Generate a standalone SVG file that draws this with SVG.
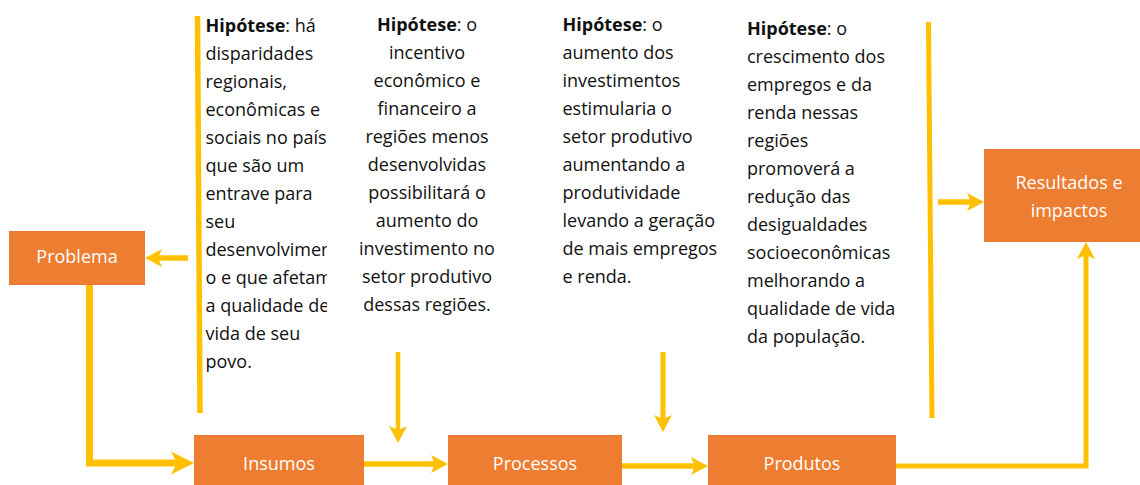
<svg xmlns="http://www.w3.org/2000/svg" width="1140" height="485" viewBox="0 0 1140 485">
<style>
.box{fill:#ED7D31;}
.lbl{font-family:"Open Sans","Liberation Sans",sans-serif;font-size:18px;fill:#FFFFFF;text-anchor:middle;}
.hyp{font-family:"Open Sans","Liberation Sans",sans-serif;font-size:18px;fill:#111111;}
.hyp tspan.b{font-weight:bold;}
.ctr{text-anchor:middle;}
.con{fill:none;stroke:#FFC000;stroke-width:5.5;stroke-linejoin:miter;}
.bar{fill:none;stroke:#FFC000;stroke-width:5.5;}
</style>
<defs>
<marker id="ah" markerUnits="userSpaceOnUse" viewBox="-18 -10 18 20" refX="-13" refY="0" markerWidth="18" markerHeight="20" orient="auto" overflow="visible">
<path d="M0,0 L-17,-9 L-13,0 L-17,9 Z" fill="#FFC000"/>
</marker>
<marker id="ahb" markerUnits="userSpaceOnUse" viewBox="-24 -12 24 24" refX="-17" refY="0" markerWidth="24" markerHeight="24" orient="auto" overflow="visible">
<path d="M0,0 L-23,-11.5 L-17,0 L-23,11.5 Z" fill="#FFC000"/>
</marker>
<clipPath id="clip1"><rect x="0" y="0" width="327" height="485"/></clipPath>
</defs>
<rect width="1140" height="485" fill="#FFFFFF"/>

<g id="connectors">
<path class="bar" d="M197.5,16 L200,413"/>
<path class="bar" style="stroke-width:5" d="M928.5,22 L932,418"/>
<path class="con" d="M188,258 H158" marker-end="url(#ah)"/>
<path class="con" style="stroke-width:7" d="M89.5,285 V463 H177" marker-end="url(#ahb)"/>
<path class="con" d="M364,464 H435" marker-end="url(#ah)"/>
<path class="con" d="M622,466 H695" marker-end="url(#ah)"/>
<path class="con" style="stroke-width:4.5" d="M398,352 V430" marker-end="url(#ah)"/>
<path class="con" style="stroke-width:5" d="M663,352 V419" marker-end="url(#ah)"/>
<path class="con" d="M938,202 H971" marker-end="url(#ah)"/>
<path class="con" style="stroke-width:5" d="M896,466 H1086 V255" marker-end="url(#ah)"/>
</g>

<g id="problema">
<rect class="box" x="9" y="231" width="136" height="54"/>
<text class="lbl" x="77" y="263">Problema</text>
</g>
<g id="insumos">
<rect class="box" x="194" y="435" width="170" height="52"/>
<text class="lbl" x="279" y="470">Insumos</text>
</g>
<g id="processos">
<rect class="box" x="448" y="435" width="174" height="52"/>
<text class="lbl" x="535" y="470">Processos</text>
</g>
<g id="produtos">
<rect class="box" x="708" y="435" width="188" height="52"/>
<text class="lbl" x="802" y="470">Produtos</text>
</g>
<g id="resultados">
<rect class="box" x="984" y="149" width="160" height="93"/>
<text class="lbl" x="1069" y="189">Resultados e</text>
<text class="lbl" x="1069" y="217">impactos</text>
</g>

<g id="hipotese1" clip-path="url(#clip1)">
<text class="hyp" x="205.5" y="32"><tspan class="b">Hipótese</tspan>: há</text>
<text class="hyp" x="205.5" y="60">disparidades</text>
<text class="hyp" x="205.5" y="88">regionais,</text>
<text class="hyp" x="205.5" y="116">econômicas e</text>
<text class="hyp" x="205.5" y="144">sociais no país</text>
<text class="hyp" x="205.5" y="172">que são um</text>
<text class="hyp" x="205.5" y="200">entrave para</text>
<text class="hyp" x="205.5" y="228">seu</text>
<text class="hyp" x="205.5" y="256">desenvolviment</text>
<text class="hyp" x="205.5" y="284">o e que afetam</text>
<text class="hyp" x="205.5" y="312">a qualidade de</text>
<text class="hyp" x="205.5" y="340">vida de seu</text>
<text class="hyp" x="205.5" y="368">povo.</text>
</g>

<g id="hipotese2">
<text class="hyp ctr" x="427" y="31"><tspan class="b">Hipótese</tspan>: o</text>
<text class="hyp ctr" x="427" y="59">incentivo</text>
<text class="hyp ctr" x="427" y="87">econômico e</text>
<text class="hyp ctr" x="427" y="115">financeiro a</text>
<text class="hyp ctr" x="427" y="143">regiões menos</text>
<text class="hyp ctr" x="427" y="171">desenvolvidas</text>
<text class="hyp ctr" x="427" y="199">possibilitará o</text>
<text class="hyp ctr" x="427" y="227">aumento do</text>
<text class="hyp ctr" x="427" y="255">investimento no</text>
<text class="hyp ctr" x="427" y="283">setor produtivo</text>
<text class="hyp ctr" x="427" y="311">dessas regiões.</text>
</g>

<g id="hipotese3">
<text class="hyp" x="562.5" y="31"><tspan class="b">Hipótese</tspan>: o</text>
<text class="hyp" x="562.5" y="59">aumento dos</text>
<text class="hyp" x="562.5" y="87">investimentos</text>
<text class="hyp" x="562.5" y="115">estimularia o</text>
<text class="hyp" x="562.5" y="143">setor produtivo</text>
<text class="hyp" x="562.5" y="171">aumentando a</text>
<text class="hyp" x="562.5" y="199">produtividade</text>
<text class="hyp" x="562.5" y="227">levando a geração</text>
<text class="hyp" x="562.5" y="255">de mais empregos</text>
<text class="hyp" x="562.5" y="283">e renda.</text>
</g>

<g id="hipotese4">
<text class="hyp" x="747" y="35"><tspan class="b">Hipótese</tspan>: o</text>
<text class="hyp" x="747" y="63">crescimento dos</text>
<text class="hyp" x="747" y="91">empregos e da</text>
<text class="hyp" x="747" y="119">renda nessas</text>
<text class="hyp" x="747" y="147">regiões</text>
<text class="hyp" x="747" y="175">promoverá a</text>
<text class="hyp" x="747" y="203">redução das</text>
<text class="hyp" x="747" y="231">desigualdades</text>
<text class="hyp" x="747" y="259">socioeconômicas</text>
<text class="hyp" x="747" y="287">melhorando a</text>
<text class="hyp" x="747" y="315">qualidade de vida</text>
<text class="hyp" x="747" y="343">da população.</text>
</g>
</svg>
